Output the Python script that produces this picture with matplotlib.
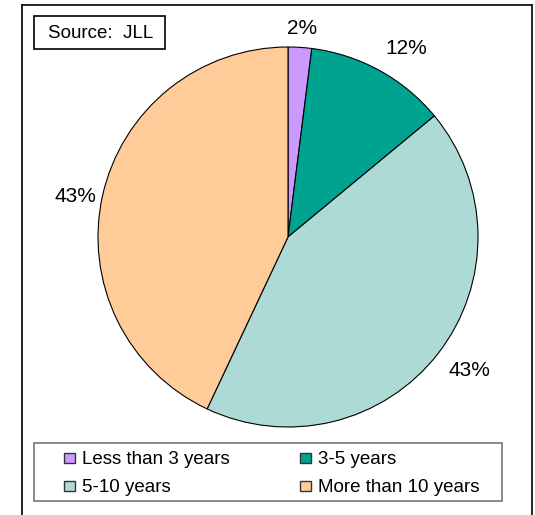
import matplotlib.pyplot as plt
import numpy as np
from matplotlib.lines import Line2D
from matplotlib.patches import Rectangle

# data
labels = ["Less than 3 years", "3-5 years", "5-10 years", "More than 10 years"]
values = [2, 12, 43, 43]
colors = ["#CC99FF", "#00A390", "#AEDAD5", "#FFCC99"]

# label placement: radius factor and clockwise nudge (deg)
label_r = [1.11, 1.177, 1.179, 1.141]
label_shift = [0.3, 3.0, -1.7, -1.2]

W, H = 535, 515
plt.rcParams['font.family'] = ['Liberation Sans', 'DejaVu Sans']
fig = plt.figure(figsize=(W / 100, H / 100), dpi=100)


def px(x0, y0, x1, y1):
    # pixel box -> figure fraction rect
    return [x0 / W, 1 - y1 / H, (x1 - x0) / W, (y1 - y0) / H]


def fx(x):
    return x / W


def fy(y):
    return 1 - y / H


# outer frame
for xs, ys in [([22, 22], [H, 5]), ([22, 532], [5, 5]), ([532, 532], [5, H])]:
    fig.add_artist(Line2D([fx(v) for v in xs], [fy(v) for v in ys], color="black",
                          lw=1.2, transform=fig.transFigure))

cx, cy, r = 288, 237, 190
ax = fig.add_axes(px(cx - r, cy - r, cx + r, cy + r))
wedges, _ = ax.pie(values, colors=colors, startangle=90, counterclock=False,
                   wedgeprops=dict(edgecolor="black", linewidth=0.8))
ax.set_xlim(-1, 1)
ax.set_ylim(-1, 1)
ax.set_aspect("equal")

dy = 2 / r  # small downward nudge of the % labels
for w, v, rr, sh in zip(wedges, values, label_r, label_shift):
    ang = np.deg2rad((w.theta1 + w.theta2) / 2 - sh)
    ax.text(rr * np.cos(ang), rr * np.sin(ang) - dy, f"{v}%", ha="center", va="center",
            fontsize=15, clip_on=False)

# source box
fig.text(fx(100.5), fy(33), "Source:  JLL", ha="center", va="center", fontsize=13.5)
fig.add_artist(Rectangle((fx(34), fy(49)), 131 / W, 33 / H, transform=fig.transFigure,
                         fill=False, edgecolor="black", lw=1.2))

# legend, drawn by hand: row-wise order
fig.add_artist(Rectangle((fx(34), fy(501)), 468 / W, 58 / H, transform=fig.transFigure,
                         fill=False, edgecolor="#777777", lw=1.2))
col_x = [64, 300]
row_y = [458, 486]
for i, (lab, c) in enumerate(zip(labels, colors)):
    x0 = col_x[i % 2]
    y0 = row_y[i // 2]
    fig.add_artist(Rectangle((fx(x0), fy(y0 + 5)), 10.5 / W, 10.5 / H,
                             transform=fig.transFigure, facecolor=c,
                             edgecolor="#333333", lw=1))
    fig.text(fx(x0 + 17.5), fy(y0 + 1), lab, ha="left", va="center", fontsize=13.5)

fig.savefig("out.png", dpi=100)
